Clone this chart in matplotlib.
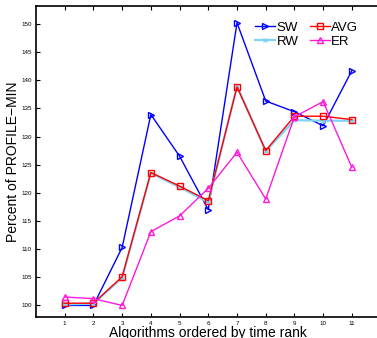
import matplotlib
matplotlib.use("Agg")
import matplotlib.pyplot as plt

plt.rcParams['font.family'] = ['Liberation Sans', 'DejaVu Sans']

x = [1, 2, 3, 4, 5, 6, 7, 8, 9, 10, 11]
sw = [100.0, 100.0, 110.3, 133.9, 126.5, 117.0, 150.2, 136.3, 134.4, 131.9, 141.7]
avg = [100.4, 100.4, 105.1, 123.6, 121.2, 118.6, 138.8, 127.5, 133.6, 133.6, 133.0]
rw = [100.2, 100.3, 104.9, 123.5, 121.0, 118.3, 139.0, 127.4, 132.9, 132.8, 132.8]
er = [101.5, 101.2, 100.0, 113.1, 115.9, 120.8, 127.2, 118.9, 133.5, 136.2, 124.5]
yticks = [100, 105, 110, 115, 120, 125, 130, 135, 140, 145, 150]

fig = plt.figure(figsize=(3.77, 3.38), dpi=100)
ax = fig.add_axes([0.0955, 0.063, 0.914, 0.918])

ms = 5
ax.plot(x, sw, color='#0000ff', lw=1, marker='>', ms=ms, mfc='none', mew=1, label='SW')
ax.plot(x, rw, color='#7fd4f5', lw=1.6, marker='x', ms=3, mew=1, label='RW')
ax.plot(x, avg, color='#ff0000', lw=1, marker='s', ms=4, mfc='none', mew=1, label='AVG')
ax.plot(x, er, color='#ff1ad9', lw=1, marker='^', ms=ms, mfc='none', mew=1, label='ER')

ax.set_xlim(0, 12)
ax.set_ylim(98, 153.1)
ax.set_xticks(x)
ax.set_yticks(yticks)
ax.tick_params(axis='both', direction='in', labelsize=4.5, length=3, width=0.8,
               top=True, right=False, pad=3)
for s in ['left', 'bottom', 'top']:
    ax.spines[s].set_linewidth(1.2)
ax.spines['right'].set_visible(False)

ax.set_xlabel('Algorithms ordered by time rank', fontsize=10, labelpad=0)
ax.set_ylabel('Percent of PROFILE\u2212MIN', fontsize=10, labelpad=1)

handles, labels = ax.get_legend_handles_labels()
ax.legend(handles, labels, ncol=2, numpoints=1,
          frameon=False, fontsize=9.5, loc='upper right', bbox_to_anchor=(0.97, 0.99),
          handlelength=1.5, handletextpad=0.1, columnspacing=0.9, labelspacing=0.15)

fig.savefig('out.png', dpi=100)
